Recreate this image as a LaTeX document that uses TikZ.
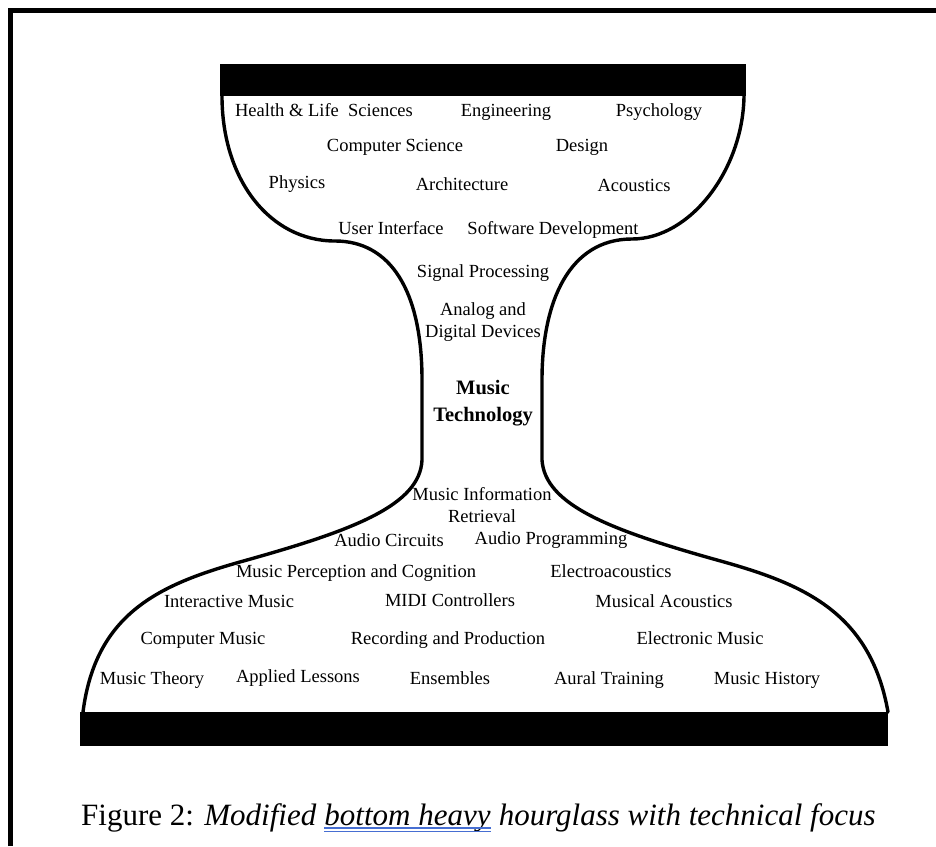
\documentclass[tikz,border=0pt]{standalone}
\usepackage{fontspec}
\setmainfont{Liberation Serif}
\begin{document}
\begin{tikzpicture}[x=1pt,y=-1pt,
  lbl/.style={font=\fontsize{18.5}{22}\selectfont, inner sep=0pt, text height=13pt, text depth=4pt},
  lbltwo/.style={font=\fontsize{18.5}{22}\selectfont, inner sep=0pt, align=center},
  lblbold/.style={font=\fontsize{20.5}{27}\selectfont\bfseries, inner sep=0pt, align=center},
  captext/.style={font=\fontsize{31}{34}\selectfont, inner sep=0pt, anchor=base west},
  outline/.style={line width=3.4pt, line join=round, line cap=round},
  bar/.style={fill=black, draw=none},
  frameline/.style={line width=5pt},
  ulblue/.style={draw={rgb,255:red,70;green,110;blue,210}, line width=1.2pt}]
\useasboundingbox (0,0) rectangle (936,846);
\fill[white] (0,0) rectangle (936,846);
% frame
\draw[frameline] (10.5,846) -- (10.5,10.5) -- (936,10.5);
% bars
\fill[bar] (220,64) rectangle (746,96);
\fill[bar] (80,712) rectangle (888,746);
% hourglass outline
\draw[outline] (222,96) .. controls (222,180) and (270,241) .. (335,241)
  .. controls (390,241) and (422,290) .. (422,380) -- (422,460)
  .. controls (420,505) and (354,530) .. (247,560)
  .. controls (164,583) and (96,610) .. (83,712);
\draw[outline] (744,96) .. controls (743,170) and (690,239) .. (632,239)
  .. controls (570,239) and (542,300) .. (542,380) -- (542,460)
  .. controls (545,505) and (610,530) .. (717,560)
  .. controls (800,583) and (870,610) .. (888,712);
% top labels
\node[lbl] (hls) at (324,112) {Health \& Life~ Sciences};
\node[lbl] (eng) at (506,112) {Engineering};
\node[lbl] (psy) at (659,112) {Psychology};
\node[lbl] (cs) at (395,147) {Computer Science};
\node[lbl] (des) at (582,147) {Design};
\node[lbl] (phy) at (297,184) {Physics};
\node[lbl] (arc) at (462,186) {Architecture};
\node[lbl] (aco) at (634,187) {Acoustics};
\node[lbl] (ui) at (391,230) {User Interface};
\node[lbl] (sd) at (553,230) {Software Development};
\node[lbl] (sp) at (483,273) {Signal Processing};
\node[lbltwo] (add) at (483,322) {Analog and\\Digital Devices};
\node[lblbold] (mt) at (483,403) {Music\\Technology};
% bottom labels
\node[lbltwo] (mir) at (482,505) {Music Information\\Retrieval};
\node[lbl] (ac) at (389,542) {Audio Circuits};
\node[lbl] (ap) at (551,540) {Audio Programming};
\node[lbl] (mpc) at (356,573) {Music Perception and Cognition};
\node[lbl] (ea) at (611,573) {Electroacoustics};
\node[lbl] (im) at (229,603) {Interactive Music};
\node[lbl] (midi) at (450,602) {MIDI Controllers};
\node[lbl] (ma) at (664,603) {Musical Acoustics};
\node[lbl] (cm) at (203,640) {Computer Music};
\node[lbl] (rp) at (448,640) {Recording and Production};
\node[lbl] (em) at (700,640) {Electronic Music};
\node[lbl] (mth) at (152,680) {Music Theory};
\node[lbl] (al) at (298,678) {Applied Lessons};
\node[lbl] (ens) at (450,680) {Ensembles};
\node[lbl] (at) at (609,680) {Aural Training};
\node[lbl] (mh) at (767,680) {Music History};
% caption
\node[captext] (c1) at (81,825) {Figure 2: \textit{Modified}};
\node[captext] (c2) at ([xshift=7.75pt]c1.base east) {\textit{bottom heavy}};
\node[captext] (c3) at ([xshift=7.75pt]c2.base east) {\textit{hourglass with technical focus}};
\draw[ulblue] ([yshift=-3pt]c2.base west) -- ([yshift=-3pt]c2.base east);
\draw[ulblue] ([yshift=-6.5pt]c2.base west) -- ([yshift=-6.5pt]c2.base east);
\end{tikzpicture}
\end{document}
